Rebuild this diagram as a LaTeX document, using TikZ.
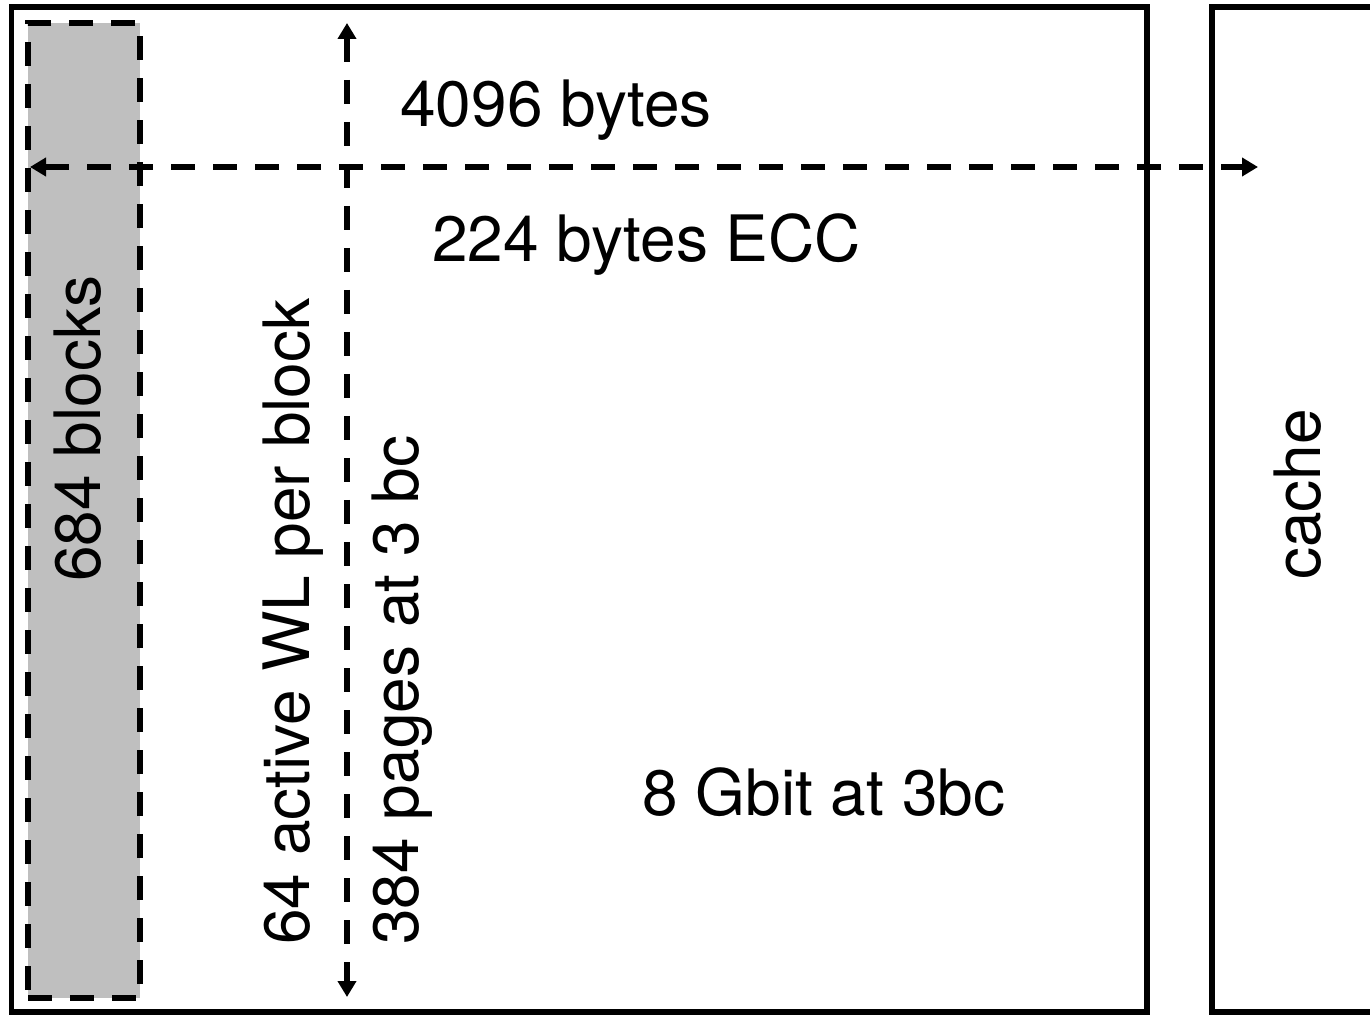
\documentclass[tikz,border=0pt]{standalone}
\usepackage{fontspec}
\setmainfont{TeX Gyre Heros}
\usetikzlibrary{arrows.meta}

\begin{document}
\begin{tikzpicture}[
  x=0.5pt, y=-0.5pt,
  >={Triangle[length=8pt,width=9pt]},
  panel/.style={draw=black, line width=2.8pt, inner sep=0pt, outer sep=0pt},
  blkcol/.style={draw=black, fill=black!25, line width=3pt,
                 dash pattern=on 12pt off 9pt, inner sep=0pt, outer sep=0pt},
  lbl/.style={font=\fontsize{32}{38}\selectfont, inner sep=0pt, anchor=base west},
  vlbl/.style={lbl, rotate=90},
  span/.style={<->, draw=black, line width=2.6pt, dash pattern=on 12pt off 9pt}]

\clip (0,0) rectangle (1370,1015);

% ---------- boxes ----------
\node[panel, minimum width=567.75pt, minimum height=502.5pt] (chip) at (579.25,509.5) {};
\node[panel, minimum width=104pt, minimum height=502.5pt] (cache) at (1316,509.5) {};
\node[blkcol, minimum width=56pt, minimum height=487.5pt] (blk) at (84,510.5) {};

% ---------- span end points ----------
\coordinate (pgL) at (30,167);
\coordinate (pgR) at (1258,167);
\coordinate (wlT) at (347,23);
\coordinate (wlB) at (347,997);

% ---------- labels ----------
\node[lbl] (lbytes) at (400,127) {4096 bytes};
\node[lbl] (lecc) at (432,262) {224 bytes ECC};
\node[lbl] (lgbit) at (642,815) {8 Gbit at 3bc};
\node[vlbl] (lblocks) at (100,582) {684 blocks};
\node[vlbl] (lwl) at (309,945) {64 active WL per block};
\node[vlbl] (lpages) at (418,945) {384 pages at 3 bc};
\node[vlbl] (lcache) at (1320,580) {cache};

% ---------- spans ----------
\draw[span] (pgL) -- (pgR);
\draw[span] (wlT) -- (wlB);
\end{tikzpicture}
\end{document}
